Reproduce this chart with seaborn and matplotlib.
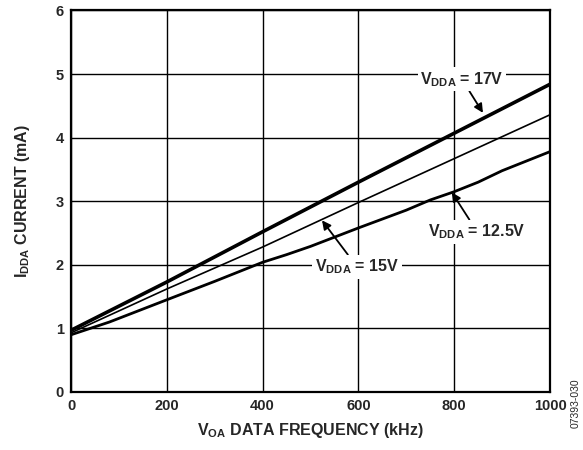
import numpy as np
import pandas as pd
import seaborn as sns
import matplotlib.pyplot as plt

# supply current vs data frequency
freq_17 = [0, 200, 400, 600, 800, 1000]
idda_17 = [0.97, 1.73, 2.52, 3.30, 4.07, 4.84]

freq_15 = [0, 200, 400, 600, 800, 1000]
idda_15 = [0.93, 1.62, 2.28, 2.98, 3.67, 4.36]

freq_125 = [0, 80, 200, 300, 400, 450, 500, 600, 700, 750, 800, 850, 900, 950, 1000]
idda_125 = [0.90, 1.10, 1.45, 1.74, 2.04, 2.16, 2.29, 2.58, 2.86, 3.02, 3.15, 3.30, 3.48, 3.63, 3.78]

x_ticks = [0, 200, 400, 600, 800, 1000]
y_ticks = [0, 1, 2, 3, 4, 5, 6]

sns.set_style('white')
plt.rcParams['font.family'] = ['Liberation Sans', 'DejaVu Sans']
plt.rcParams['font.weight'] = 'bold'
plt.rcParams['mathtext.fontset'] = 'custom'
plt.rcParams['mathtext.rm'] = 'Liberation Sans:bold'
plt.rcParams['mathtext.bf'] = 'Liberation Sans:bold'
plt.rcParams['mathtext.default'] = 'bf'

FS = 10.5
FS_LAB = 11.5

fig = plt.figure(figsize=(5.83, 4.5), dpi=100)
ax = fig.add_axes([0.1218, 0.1289, 0.8216, 0.8478])

df17 = pd.DataFrame({'f': freq_17, 'i': idda_17})
df15 = pd.DataFrame({'f': freq_15, 'i': idda_15})
df125 = pd.DataFrame({'f': freq_125, 'i': idda_125})

sns.lineplot(data=df17, x='f', y='i', ax=ax, color='black', lw=2.6, zorder=3)
sns.lineplot(data=df15, x='f', y='i', ax=ax, color='black', lw=1.2, zorder=3)
sns.lineplot(data=df125, x='f', y='i', ax=ax, color='black', lw=2.0, zorder=3)

ax.set_xlim(0, 1000)
ax.set_ylim(0, 6)
ax.set_xticks(x_ticks)
ax.set_yticks(y_ticks)
ax.grid(True, color='black', lw=1.0)
ax.set_axisbelow(True)
for s in ax.spines.values():
    s.set_color('black')
    s.set_linewidth(1.6)
ax.tick_params(axis='both', labelsize=FS, length=0, pad=5)
for lab in ax.get_xticklabels() + ax.get_yticklabels():
    lab.set_fontweight('bold')

ax.set_xlabel(r'$V_{OA}$ DATA FREQUENCY (kHz)', fontsize=FS_LAB, fontweight='bold', labelpad=6)
ax.set_ylabel(r'$I_{DDA}$ CURRENT (mA)', fontsize=FS_LAB, fontweight='bold', labelpad=17)

box = dict(facecolor='white', edgecolor='none', pad=2)
arrow = dict(arrowstyle='-|>', color='black', lw=1.3, mutation_scale=13, shrinkA=0, shrinkB=0)

ax.annotate(r'$V_{DDA}$ = 17V', xy=(860, 4.39), xytext=(816, 4.92),
            ha='center', va='center', fontsize=FS_LAB, fontweight='bold', bbox=box, arrowprops=arrow)
ax.annotate(r'$V_{DDA}$ = 15V', xy=(524, 2.70), xytext=(597, 1.97),
            ha='center', va='center', fontsize=FS_LAB, fontweight='bold', bbox=box, arrowprops=arrow)
ax.annotate(r'$V_{DDA}$ = 12.5V', xy=(795, 3.14), xytext=(848, 2.52),
            ha='center', va='center', fontsize=FS_LAB, fontweight='bold', bbox=box, arrowprops=arrow)

fig.text(0.988, 0.105, '07393-030', rotation=90, fontsize=7.5, fontweight='normal',
         ha='center', va='center')

fig.savefig('out.png', dpi=100)
